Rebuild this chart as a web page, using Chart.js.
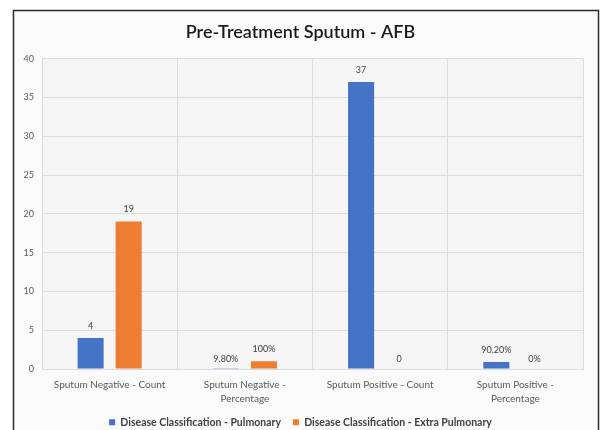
<!DOCTYPE html>
<html><head><meta charset="utf-8">
<script src="https://cdn.jsdelivr.net/npm/chart.js@4"></script>
<style>html,body{margin:0;padding:0;background:#fff;}#wrap{position:relative;width:606px;height:430px;}</style>
</head><body><div id="wrap"><canvas id="c" width="606" height="430"></canvas></div>
<script>
const categories = [["Sputum Negative - Count"], ["Sputum Negative -", "Percentage"], ["Sputum Positive - Count"], ["Sputum Positive -", "Percentage"]];
const pulmonaryValues = [4, 0.098, 37, 0.902];
const extraPulmonaryValues = [19, 1, 0, 0];
const pulmonaryLabels = ["4", "9.80%", "37", "90.20%"];
const extraPulmonaryLabels = ["19", "100%", "0", "0%"];
const yTicks = [0, 5, 10, 15, 20, 25, 30, 35, 40];
const FONT = 'Lato, "Liberation Sans", sans-serif';

const frame = {
  id: 'frame',
  beforeDraw(chart) {
    const ctx = chart.ctx;
    ctx.save();
    ctx.fillStyle = '#fafafa';
    ctx.fillRect(14, 11, 584, 430);
    ctx.strokeStyle = '#2b2b2b';
    ctx.lineWidth = 1.5;
    ctx.strokeRect(13.5, 10.5, 585, 440);
    const a = chart.chartArea;
    ctx.fillStyle = '#f5f5f5';
    ctx.fillRect(a.left, a.top, a.right - a.left, a.bottom - a.top);
    ctx.restore();
  }
};
const valueLabels = {
  id: 'valueLabels',
  afterDatasetsDraw(chart) {
    const ctx = chart.ctx;
    const sets = [pulmonaryLabels, extraPulmonaryLabels];
    ctx.save();
    ctx.font = '9px ' + FONT;
    ctx.fillStyle = '#404040';
    ctx.textAlign = 'center';
    ctx.textBaseline = 'middle';
    chart.data.datasets.forEach((ds, i) => {
      const meta = chart.getDatasetMeta(i);
      meta.data.forEach((bar, j) => {
        const y = ds.data[j] >= 0.5 ? bar.y - 12 : chart.chartArea.bottom - 10;
        ctx.fillText(sets[i][j], bar.x, y);
      });
    });
    ctx.restore();
  }
};

new Chart(document.getElementById('c'), {
  type: 'bar',
  data: {
    labels: categories,
    datasets: [
      { label: 'Disease Classification - Pulmonary', data: pulmonaryValues, backgroundColor: '#4472C4', categoryPercentage: 0.563, barPercentage: 0.684 },
      { label: 'Disease Classification - Extra Pulmonary', data: extraPulmonaryValues, backgroundColor: '#ED7D31', categoryPercentage: 0.563, barPercentage: 0.684 }
    ]
  },
  options: {
    responsive: false,
    animation: false,
    layout: { padding: { left: 18, right: 23, top: 14, bottom: -2 } },
    plugins: {
      title: { display: true, text: 'Pre-Treatment Sputum - AFB', color: '#1a1a1a', font: { family: FONT, size: 18, weight: '600' }, padding: { top: 7, bottom: 16 } },
      legend: { position: 'bottom', maxHeight: 27, labels: { boxWidth: 6, boxHeight: 6, color: '#404040', padding: 12, font: { family: FONT, size: 10.5, weight: 'bold' } } },
      tooltip: { enabled: false }
    },
    scales: {
      y: {
        min: 0, max: 40,
        afterBuildTicks(s) { s.ticks = yTicks.map(v => ({ value: v })); },
        afterFit(s) { s.width = 24; },
        ticks: { color: '#595959', padding: 8, font: { family: FONT, size: 9 } },
        grid: { color: '#dcdcdc', drawTicks: false },
        border: { display: false }
      },
      x: {
        afterFit(s) { s.height -= 10; },
        ticks: { color: '#595959', padding: 9, font: { family: FONT, size: 10, lineHeight: 1.4 } },
        grid: { color: '#dcdcdc', drawTicks: false, offset: true },
        border: { color: '#dcdcdc' }
      }
    }
  },
  plugins: [frame, valueLabels]
});
</script></body></html>
